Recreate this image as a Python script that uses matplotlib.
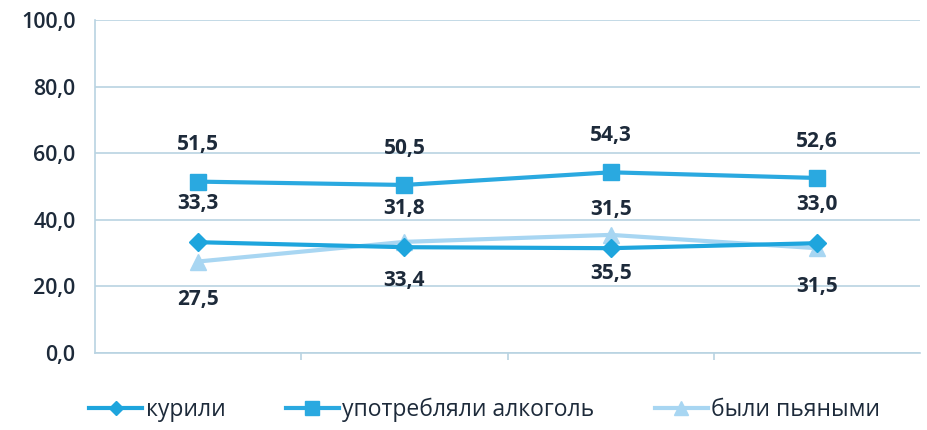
import matplotlib
matplotlib.use("Agg")
import matplotlib.pyplot as plt
from matplotlib.ticker import FuncFormatter

# --- data ---
categories = ["1", "2", "3", "4"]
smoked = [33.3, 31.8, 31.5, 33.0]
alcohol = [51.5, 50.5, 54.3, 52.6]
drunk = [27.5, 33.4, 35.5, 31.5]
series_names = ["курили", "употребляли алкоголь", "были пьяными"]

BLUE = "#1ea5dd"
BLUE2 = "#2aa9e0"
LIGHT = "#a8d6f2"
TEXT = "#1d2a3a"
GRID = "#b9d3e2"

plt.rcParams["font.family"] = ["Open Sans", "DejaVu Sans"]

fig = plt.figure(figsize=(9.27, 4.3), dpi=100, facecolor="white")
ax = fig.add_axes([0.1025, 0.179, 0.89, 0.774])

x = list(range(len(categories)))
ax.plot(x, smoked, color=BLUE, linewidth=3, marker="D", markersize=9, label=series_names[0], zorder=4)
ax.plot(x, alcohol, color=BLUE2, linewidth=3, marker="s", markersize=12, label=series_names[1], zorder=3)
ax.plot(x, drunk, color=LIGHT, linewidth=3, marker="^", markersize=12, label=series_names[2], zorder=2)


def fmt(v):
    return f"{v:.1f}".replace(".", ",")


lab_kw = dict(ha="center", fontsize=15, fontweight="bold", color=TEXT)
for i in x:
    ax.annotate(fmt(alcohol[i]), (i, alcohol[i]), xytext=(0, 19),
                textcoords="offset points", va="bottom", **lab_kw)
    ax.annotate(fmt(smoked[i]), (i, smoked[i]), xytext=(0, 20),
                textcoords="offset points", va="bottom", **lab_kw)
    ax.annotate(fmt(drunk[i]), (i, drunk[i]), xytext=(0, -20),
                textcoords="offset points", va="top", **lab_kw)

ax.set_ylim(0, 100)
ax.set_yticks([0, 20, 40, 60, 80, 100])
ax.yaxis.set_major_formatter(FuncFormatter(lambda v, p: fmt(v)))
ax.set_xlim(-0.5, len(categories) - 0.5)
ax.set_xticks([i - 0.5 for i in range(1, len(categories))])
ax.set_xticklabels([])
ax.tick_params(axis="x", length=5, color=GRID, width=1.2)
ax.tick_params(axis="y", length=0, labelsize=15.5, labelcolor=TEXT, pad=14)
for t in ax.get_yticklabels():
    t.set_fontweight("semibold")
ax.yaxis.grid(True, color=GRID, linewidth=1.2)
ax.set_axisbelow(True)
for s in ["top", "right"]:
    ax.spines[s].set_visible(False)
ax.spines["left"].set_color(GRID)
ax.spines["bottom"].set_color(GRID)
ax.spines["left"].set_linewidth(1.2)
ax.spines["bottom"].set_linewidth(1.2)

fig.legend(loc="lower center", bbox_to_anchor=(0.523, -0.03), ncol=3, frameon=False,
           fontsize=16.5, labelcolor=TEXT, handlelength=2.3, columnspacing=2.65,
           handletextpad=0.15, markerscale=0.8)

fig.savefig("out.png", dpi=100, facecolor="white")
